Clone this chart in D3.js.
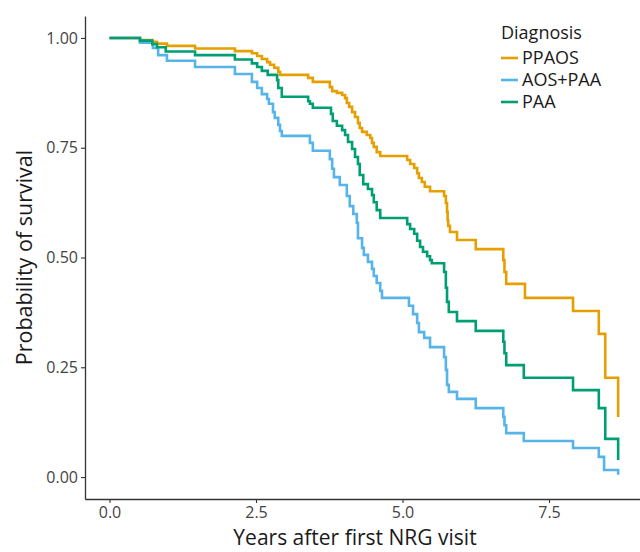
<!DOCTYPE html>
<html>
<head>
<meta charset="utf-8">
<script src="https://cdn.jsdelivr.net/npm/d3@7"></script>
<style>
  body { margin: 0; background: #fff; }
  svg { display: block; font-family: 'Open Sans', sans-serif; }
</style>
</head>
<body>
<div id="chart"></div>
<script>
// groups and colours
const groups = ['PPAOS', 'AOS+PAA', 'PAA'];
const colors = ['#E69F00', '#56B4E9', '#009E73'];

// axis ticks
const xTicks = [0, 2.5, 5, 7.5];
const yTicks = [0, 0.25, 0.5, 0.75, 1];

// Kaplan-Meier steps (years, survival)
const ppaosTime = [0, 0.52, 0.73, 0.81, 0.98, 1.46, 2.14, 2.43, 2.52, 2.60, 2.69, 2.74, 2.81, 2.88, 2.91,
  3.39, 3.47, 3.76, 3.80, 3.88, 3.97, 4.02, 4.05, 4.09, 4.14, 4.19, 4.24, 4.27, 4.31, 4.39, 4.45, 4.48,
  4.51, 4.56, 4.62, 5.08, 5.13, 5.20, 5.25, 5.28, 5.33, 5.38, 5.47, 5.71, 5.74, 5.76, 5.77, 5.78, 5.81,
  5.93, 6.25, 6.72, 6.74, 6.77, 7.09, 7.91, 8.35, 8.46, 8.68];
const ppaosSurv = [1, 0.995, 0.991, 0.987, 0.982, 0.976, 0.970, 0.965, 0.959, 0.952, 0.945, 0.939, 0.932, 0.923, 0.916,
  0.909, 0.900, 0.888, 0.879, 0.875, 0.870, 0.863, 0.852, 0.843, 0.831, 0.820, 0.806, 0.795, 0.786, 0.779, 0.772, 0.761,
  0.752, 0.740, 0.731, 0.722, 0.713, 0.704, 0.692, 0.681, 0.672, 0.661, 0.651, 0.640, 0.624, 0.604, 0.585, 0.572, 0.558,
  0.540, 0.519, 0.494, 0.467, 0.440, 0.408, 0.378, 0.326, 0.226, 0.137];

const aosPaaTime = [0, 0.52, 0.74, 0.83, 0.98, 1.46, 2.14, 2.43, 2.52, 2.60, 2.69, 2.72, 2.79, 2.82, 2.88,
  2.91, 2.94, 3.42, 3.47, 3.76, 3.80, 3.83, 3.93, 4.05, 4.10, 4.16, 4.22, 4.24, 4.31, 4.34, 4.41, 4.48,
  4.51, 4.56, 4.62, 4.65, 5.11, 5.18, 5.25, 5.28, 5.37, 5.47, 5.71, 5.74, 5.76, 5.79, 5.93, 6.25, 6.72,
  6.74, 6.77, 7.07, 7.91, 8.35, 8.44, 8.68];
const aosPaaSurv = [1, 0.989, 0.977, 0.961, 0.948, 0.934, 0.918, 0.900, 0.886, 0.872, 0.861, 0.850, 0.831, 0.818, 0.802,
  0.788, 0.777, 0.761, 0.743, 0.724, 0.702, 0.683, 0.665, 0.640, 0.617, 0.599, 0.579, 0.544, 0.522, 0.506, 0.490, 0.474,
  0.458, 0.442, 0.424, 0.408, 0.390, 0.371, 0.351, 0.330, 0.317, 0.296, 0.273, 0.244, 0.210, 0.194, 0.178, 0.157, 0.137,
  0.118, 0.100, 0.082, 0.066, 0.046, 0.016, 0.005];

const paaTime = [0, 0.52, 0.73, 0.81, 0.96, 1.46, 2.14, 2.43, 2.52, 2.60, 2.70, 2.86, 2.88, 2.94, 3.39,
  3.42, 3.47, 3.78, 3.81, 3.88, 3.97, 4.02, 4.07, 4.14, 4.19, 4.24, 4.27, 4.33, 4.41, 4.48, 4.51, 4.56,
  4.62, 5.08, 5.13, 5.20, 5.25, 5.30, 5.35, 5.42, 5.47, 5.50, 5.71, 5.74, 5.76, 5.79, 5.93, 6.25, 6.72,
  6.74, 6.77, 7.07, 7.91, 8.35, 8.46, 8.68];
const paaSurv = [1, 0.994, 0.986, 0.979, 0.969, 0.961, 0.951, 0.942, 0.934, 0.925, 0.916, 0.904, 0.886, 0.866, 0.856,
  0.850, 0.841, 0.827, 0.811, 0.800, 0.790, 0.779, 0.763, 0.747, 0.729, 0.713, 0.688, 0.667, 0.656, 0.642, 0.626, 0.608,
  0.590, 0.576, 0.565, 0.554, 0.538, 0.524, 0.513, 0.503, 0.494, 0.487, 0.467, 0.431, 0.399, 0.376, 0.355, 0.333, 0.308,
  0.282, 0.255, 0.226, 0.198, 0.157, 0.087, 0.039];

const series = [
  { name: groups[0], color: colors[0], values: d3.zip(ppaosTime, ppaosSurv) },
  { name: groups[1], color: colors[1], values: d3.zip(aosPaaTime, aosPaaSurv) },
  { name: groups[2], color: colors[2], values: d3.zip(paaTime, paaSurv) }
];

// Margin convention
const W = 640, H = 552;
const margin = { top: 16, right: 0, bottom: 53, left: 85 };
const width = W - margin.left - margin.right;
const height = H - margin.top - margin.bottom;

// x: 0 sits 24.5px in from the axis, 58.6px per year
const xScale = d3.scaleLinear()
  .domain([-24.5 / 58.6, (width - 24.5) / 58.6])
  .range([0, width]);
const yScale = d3.scaleLinear()
  .domain([-0.05, 1.05])
  .range([height, 0]);

const svg = d3.select('#chart')
  .append('svg')
  .attr('width', W)
  .attr('height', H)
  .append('g')
  .attr('transform', `translate(${margin.left},${margin.top})`);

// curves
const line = d3.line()
  .x(d => xScale(d[0]))
  .y(d => yScale(d[1]))
  .curve(d3.curveStepAfter);

svg.selectAll('.km')
  .data(series)
  .enter()
  .append('path')
  .attr('class', 'km')
  .attr('d', d => line(d.values))
  .attr('fill', 'none')
  .attr('stroke', d => d.color)
  .attr('stroke-width', 2.6);

// axes
const xAxisDraw = svg.append('g')
  .attr('transform', `translate(0,${height})`)
  .call(d3.axisBottom(xScale)
    .tickValues(xTicks)
    .tickFormat(d3.format('.1f'))
    .tickSizeInner(4)
    .tickSizeOuter(0)
    .tickPadding(4));

const yAxisDraw = svg.append('g')
  .call(d3.axisLeft(yScale)
    .tickValues(yTicks)
    .tickFormat(d3.format('.2f'))
    .tickSizeInner(4)
    .tickSizeOuter(0)
    .tickPadding(3));

[xAxisDraw, yAxisDraw].forEach(a => {
  a.select('.domain').attr('stroke', '#333').attr('stroke-width', 1.3);
  a.selectAll('.tick line').attr('stroke', '#333').attr('stroke-width', 1.1);
  a.selectAll('.tick text')
    .attr('fill', '#444')
    .style('font-size', '16px')
    .style('font-family', "'Open Sans', sans-serif");
});

// axis titles
svg.append('text')
  .attr('x', 355 - margin.left)
  .attr('y', H - margin.top - 7)
  .attr('text-anchor', 'middle')
  .style('font-size', '21px')
  .attr('fill', '#1a1a1a')
  .text('Years after first NRG visit');

svg.append('text')
  .attr('transform', `translate(${32 - margin.left},${yScale(0.5)}) rotate(-90)`)
  .attr('text-anchor', 'middle')
  .style('font-size', '21.5px')
  .attr('fill', '#1a1a1a')
  .text('Probability of survival');

// legend
const legend = svg.append('g')
  .attr('transform', `translate(${501 - margin.left},${39 - margin.top})`);

legend.append('text')
  .style('font-size', '18px')
  .attr('fill', '#1a1a1a')
  .text('Diagnosis');

const items = legend.selectAll('.item')
  .data(series)
  .enter()
  .append('g')
  .attr('class', 'item')
  .attr('transform', (d, i) => `translate(0,${19 + i * 22})`);

items.append('line')
  .attr('x1', 0)
  .attr('x2', 17)
  .attr('stroke', d => d.color)
  .attr('stroke-width', 2.6);

items.append('text')
  .attr('x', 21)
  .attr('dy', '0.35em')
  .style('font-size', '18px')
  .attr('fill', '#1a1a1a')
  .text(d => d.name);
</script>
</body>
</html>
